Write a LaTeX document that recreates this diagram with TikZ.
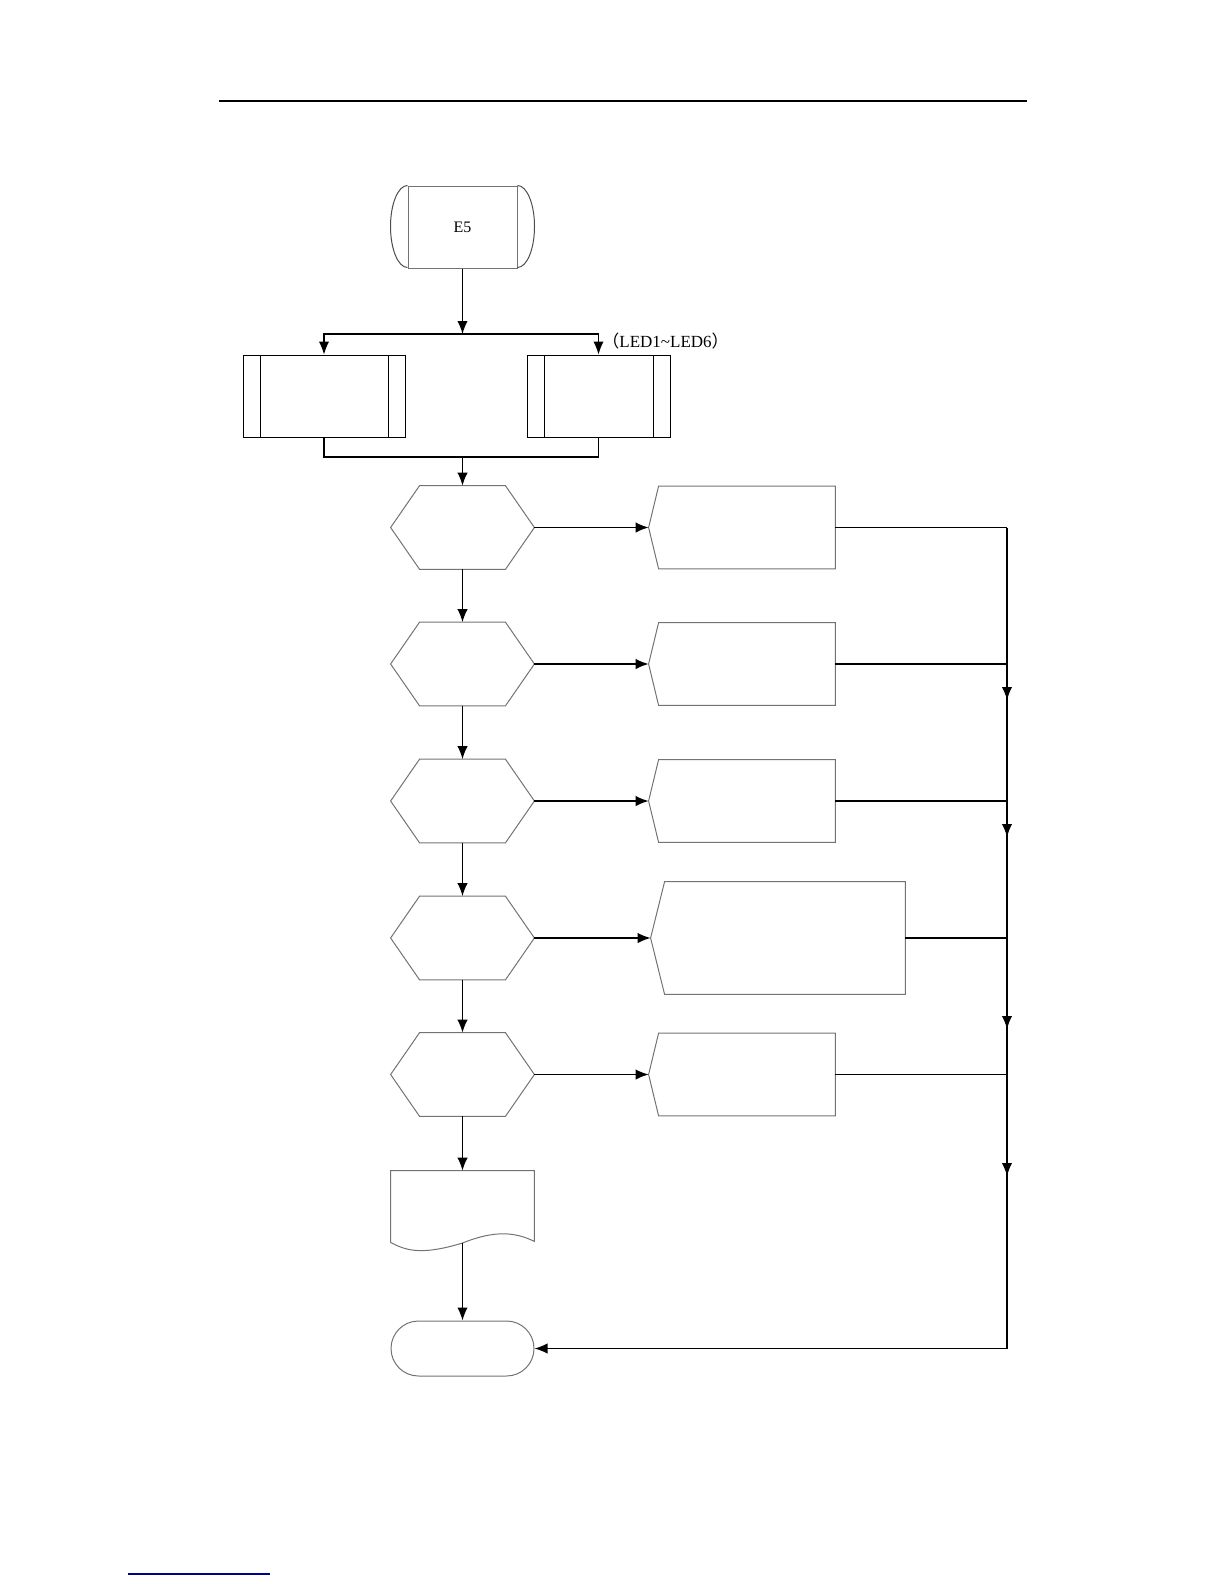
\documentclass[tikz,border=0pt]{standalone}
\usepackage{fontspec}
\setmainfont{Liberation Serif}
\newfontfamily\cjk{Noto Sans CJK SC}
\usetikzlibrary{arrows.meta, positioning, calc}

\begin{document}
\begin{tikzpicture}[x=0.5pt, y=-0.5pt, font=\fontsize{8}{9.6}\selectfont,
    line/.style={line width=0.65pt},
    flow/.style={line, -{Latex[length=6.5pt, width=5.2pt]}},
    outline/.style={draw=black!55, line width=0.5pt},
    subbox/.style={draw, line width=0.45pt, minimum width=#1, minimum height=41pt, inner sep=0pt,
        path picture={
            \draw[line width=0.45pt] ([xshift=8.5pt]path picture bounding box.north west) -- ([xshift=8.5pt]path picture bounding box.south west);
            \draw[line width=0.45pt] ([xshift=-8.5pt]path picture bounding box.north east) -- ([xshift=-8.5pt]path picture bounding box.south east);
        }},
    hexnode/.style={minimum width=71.5pt, minimum height=41.5pt, inner sep=0pt},
    actbox/.style={minimum width=#1, minimum height=41pt, inner sep=0pt},
    actbox/.default=93pt]
    \useasboundingbox (0,0) rectangle (1224,1584);

    % page rules
    \draw[line width=1.2pt] (219,101) -- (1027,101);
    \draw[line width=0.8pt, blue!55!black] (128,1574) -- (270,1574);

    % start
    \node[outline, minimum width=54.5pt, minimum height=41pt, inner sep=0pt] (e5) at (462.5,227) {E5};
    \draw[draw=black!70, line width=0.5pt] (e5.north west) arc[start angle=90, end angle=270, x radius=8.5pt, y radius=20.5pt];
    \draw[draw=black!70, line width=0.5pt] (e5.north east) arc[start angle=90, end angle=-90, x radius=8.5pt, y radius=20.5pt];

    % two sub-routines
    \coordinate (split) at (462.5,334);
    \coordinate (merge) at (462.5,457);
    \node[subbox=81pt] (p1) at (324,396) {};
    \node[subbox=71.5pt] (p2) at (598.5,396) {};
    \node[anchor=west, inner sep=0pt, font=\fontsize{8.5}{10}\selectfont] (led) at (602,341) {{\cjk （}LED1\textasciitilde LED6{\cjk ）}};

    % checks
    \node[hexnode] (h1) at (462.5,527.5) {};
    \node[hexnode] (h2) at (462.5,664) {};
    \node[hexnode] (h3) at (462.5,801) {};
    \node[hexnode] (h4) at (462.5,938) {};
    \node[hexnode] (h5) at (462.5,1074.5) {};
    \foreach \n in {1,...,5}
        \draw[outline] (h\n.west) -- ([xshift=14.5pt]h\n.north west) -- ([xshift=-14.5pt]h\n.north east)
            -- (h\n.east) -- ([xshift=-14.5pt]h\n.south east) -- ([xshift=14.5pt]h\n.south west) -- cycle;

    % actions
    \node[actbox] (b1) at (742,527.5) {};
    \node[actbox] (b2) at (742,664) {};
    \node[actbox] (b3) at (742,801) {};
    \node[actbox=127pt, minimum height=56pt] (b4) at (778,938) {};
    \node[actbox] (b5) at (742,1074.5) {};
    \foreach \n/\d in {1/5pt,2/5pt,3/5pt,4/7pt,5/5pt}
        \draw[outline] (b\n.west) -- ([xshift=\d]b\n.north west) -- (b\n.north east)
            -- (b\n.south east) -- ([xshift=\d]b\n.south west) -- cycle;

    % document and end
    \node[minimum width=71.5pt, minimum height=35.5pt, inner sep=0pt] (doc) at (462.5,1206.5) {};
    \draw[outline] (doc.south west) -- (doc.north west) -- (doc.north east) -- ([yshift=0.5pt]doc.south east)
        .. controls (515,1232) and (495,1230) .. (462.5,1243)
        .. controls (420,1256) and (405,1250) .. (doc.south west);
    \coordinate (docb) at (462.5,1243);
    \node[outline, rounded corners=13.75pt, minimum width=71.5pt, minimum height=27.5pt, inner sep=0pt] (term) at (462.5,1348.5) {};

    % connectors
    \draw[flow] (e5) -- (split);
    \draw[flow] (split) -| (p1);
    \draw[flow] (split) -| (p2);
    \draw[line] (p1) |- (merge) -| (p2);
    \draw[flow] (merge) -- (h1);
    \draw[flow] (h1) -- (h2);
    \draw[flow] (h2) -- (h3);
    \draw[flow] (h3) -- (h4);
    \draw[flow] (h4) -- (h5);
    \draw[flow] (h5) -- (doc);
    \draw[flow] (docb) -- (term);
    \foreach \n in {1,...,5}
        \draw[flow] (h\n) -- (b\n);

    % return rail
    \coordinate (rail) at (1007,0);
    \coordinate (m1) at (1007,700);
    \coordinate (m2) at (1007,837);
    \coordinate (m3) at (1007,1029);
    \coordinate (m4) at (1007,1176);
    \foreach \n in {1,...,5}
        \draw[line] (b\n) -- (rail |- b\n);
    \draw[line] (rail |- b1) -- (rail |- term);
    \draw[flow] (rail |- term) -- (term);
    \draw[flow] (rail |- b2) -- (m1);
    \draw[flow] (rail |- b3) -- (m2);
    \draw[flow] (rail |- b4) -- (m3);
    \draw[flow] (rail |- b5) -- (m4);
\end{tikzpicture}
\end{document}
